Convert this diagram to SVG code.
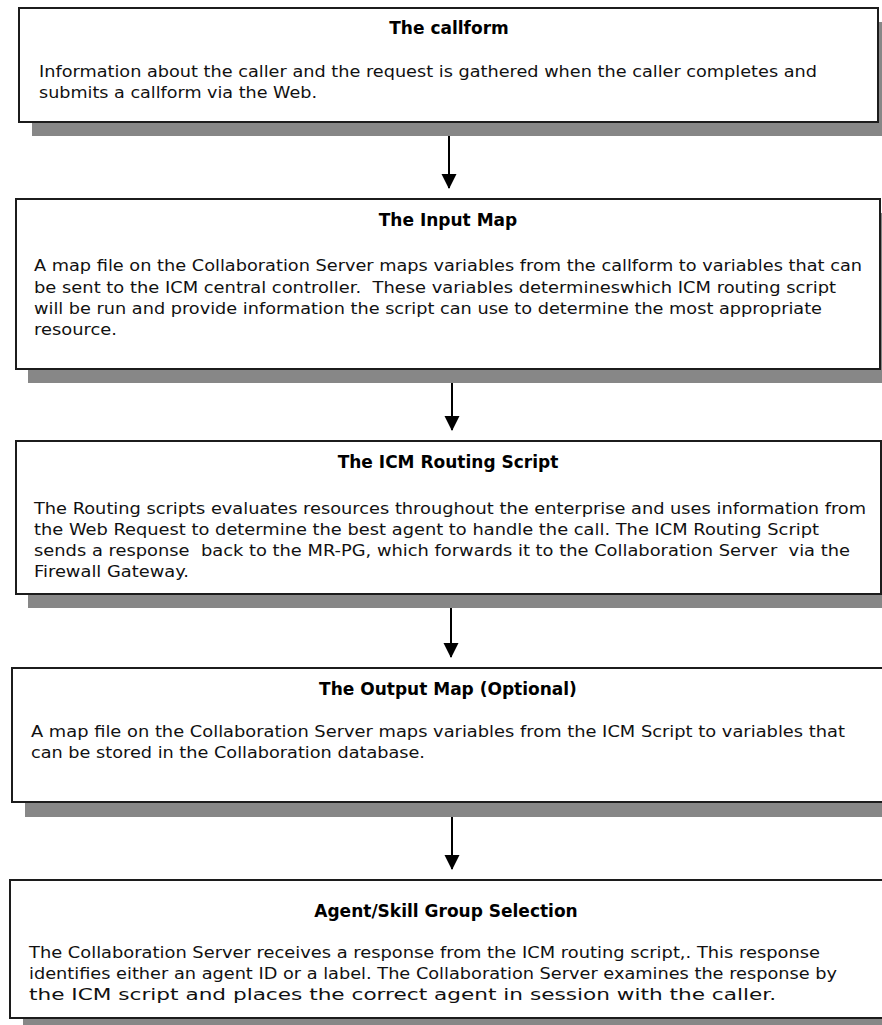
<svg xmlns="http://www.w3.org/2000/svg" width="882" height="1025" viewBox="0 0 882 1025">
<defs>
<marker id="ah" markerWidth="16" markerHeight="16" refX="14" refY="7.5" orient="auto" markerUnits="userSpaceOnUse">
<path d="M0,0 L15,7.5 L0,15 Z" fill="#000"/>
</marker>
<style>
.box{fill:#fff;stroke:#1c1c1c;stroke-width:2}
.sh{fill:#878787}
.t{font-family:"DejaVu Sans",Verdana,sans-serif;font-size:17px;font-weight:bold;fill:#000;text-anchor:middle}
.b{font-family:"DejaVu Sans",Verdana,sans-serif;font-size:16.5px;fill:#111;white-space:pre}
.c{stroke:#000;stroke-width:2;fill:none}
</style>
</defs>
<rect width="882" height="1025" fill="#fff"/>
<g id="node1">
<rect class="sh" x="32" y="22" width="859" height="114"/>
<rect class="box" x="19" y="8" width="859" height="114"/>
<text class="t" x="449" y="34">The callform</text>
<text class="b" x="39" y="76.5" textLength="778" lengthAdjust="spacingAndGlyphs">Information about the caller and the request is gathered when the caller completes and</text>
<text class="b" x="39" y="98" textLength="278" lengthAdjust="spacingAndGlyphs">submits a callform via the Web.</text>
</g>
<g id="node2">
<rect class="sh" x="28" y="213" width="864" height="170"/>
<rect class="box" x="16" y="199" width="864" height="170"/>
<text class="t" x="448" y="226">The Input Map</text>
<text class="b" x="34" y="271" textLength="828" lengthAdjust="spacingAndGlyphs">A map file on the Collaboration Server maps variables from the callform to variables that can</text>
<text class="b" x="34" y="292.5" textLength="802" lengthAdjust="spacingAndGlyphs">be sent to the ICM central controller.  These variables determineswhich ICM routing script</text>
<text class="b" x="34" y="314" textLength="788" lengthAdjust="spacingAndGlyphs">will be run and provide information the script can use to determine the most appropriate</text>
<text class="b" x="34" y="335" textLength="83" lengthAdjust="spacingAndGlyphs">resource.</text>
</g>
<g id="node3">
<rect class="sh" x="28" y="455" width="865" height="153"/>
<rect class="box" x="16" y="441" width="865" height="153"/>
<text class="t" x="448" y="468">The ICM Routing Script</text>
<text class="b" x="34" y="514" textLength="832" lengthAdjust="spacingAndGlyphs">The Routing scripts evaluates resources throughout the enterprise and uses information from</text>
<text class="b" x="34" y="535" textLength="785" lengthAdjust="spacingAndGlyphs">the Web Request to determine the best agent to handle the call. The ICM Routing Script</text>
<text class="b" x="34" y="556" textLength="816" lengthAdjust="spacingAndGlyphs">sends a response  back to the MR-PG, which forwards it to the Collaboration Server  via the</text>
<text class="b" x="34" y="576.5" textLength="155" lengthAdjust="spacingAndGlyphs">Firewall Gateway.</text>
</g>
<g id="node4">
<rect class="sh" x="25" y="682" width="880" height="135"/>
<rect class="box" x="12" y="668" width="880" height="134"/>
<text class="t" x="448" y="695">The Output Map (Optional)</text>
<text class="b" x="31" y="737" textLength="814" lengthAdjust="spacingAndGlyphs">A map file on the Collaboration Server maps variables from the ICM Script to variables that</text>
<text class="b" x="31" y="758" textLength="394" lengthAdjust="spacingAndGlyphs">can be stored in the Collaboration database.</text>
</g>
<g id="node5">
<rect class="sh" x="23" y="894" width="880" height="140"/>
<rect class="box" x="10" y="880" width="880" height="138"/>
<text class="t" x="446" y="917">Agent/Skill Group Selection</text>
<text class="b" x="29" y="958" textLength="791" lengthAdjust="spacingAndGlyphs">The Collaboration Server receives a response from the ICM routing script,. This response</text>
<text class="b" x="29" y="979" textLength="808" lengthAdjust="spacingAndGlyphs">identifies either an agent ID or a label. The Collaboration Server examines the response by</text>
<text class="b" x="29" y="999.5" textLength="747" lengthAdjust="spacingAndGlyphs">the ICM script and places the correct agent in session with the caller.</text>
</g>
<g id="connectors">
<line class="c" x1="449" y1="136" x2="449" y2="188" marker-end="url(#ah)"/>
<line class="c" x1="452" y1="383" x2="452" y2="430" marker-end="url(#ah)"/>
<line class="c" x1="451" y1="608" x2="451" y2="657" marker-end="url(#ah)"/>
<line class="c" x1="452" y1="817" x2="452" y2="869" marker-end="url(#ah)"/>
</g>
</svg>
